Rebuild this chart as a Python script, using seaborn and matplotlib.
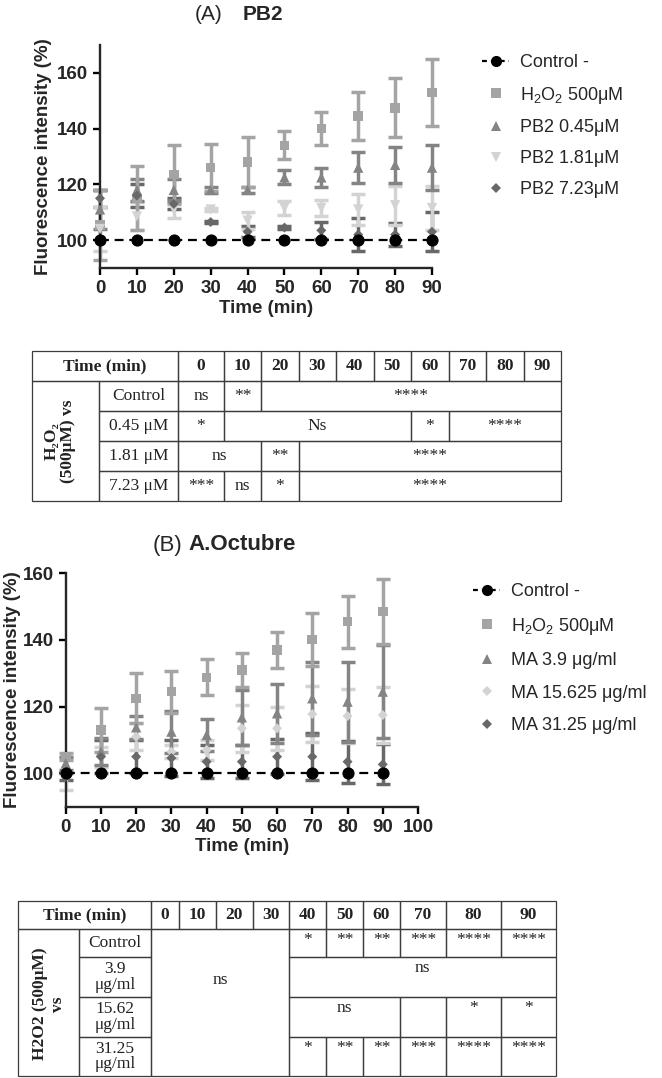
#!/usr/bin/env python3
import matplotlib
matplotlib.use("Agg")
import matplotlib.pyplot as plt
from matplotlib.lines import Line2D
from matplotlib.patches import Rectangle
import pandas as pd
import seaborn as sns

W, H = 662, 1078
SANS = ["Liberation Sans", "DejaVu Sans"]
SERIF = ["Liberation Serif", "DejaVu Serif"]

# ---- values (mean and SD, % fluorescence) ----
time_min = [0, 10, 20, 30, 40, 50, 60, 70, 80, 90]

# panel A: PB2
a_names = ["Control -", "H$_2$O$_2$ 500μM", "PB2 0.45μM", "PB2 1.81μM", "PB2 7.23μM"]
a_control = [100, 100, 100, 100, 100, 100, 100, 100, 100, 100]
a_control_sd = [0, 0, 0, 0, 0, 0, 0, 0, 0, 0]
a_h2o2 = [105.5, 115, 123.5, 126, 128, 134, 140, 144.5, 147.5, 153]
a_h2o2_sd = [12.5, 11.5, 10.5, 8.5, 9, 5, 6, 8.5, 10.5, 12]
a_pb2_045 = [111, 118, 118, 118, 118, 122.5, 122.5, 126, 127, 126]
a_pb2_045_sd = [7, 4, 4, 1, 1, 2.5, 3.5, 5.5, 6.5, 8]
a_pb2_181 = [104, 108.5, 111, 111, 107, 111.5, 111.5, 111, 112.5, 111.5]
a_pb2_181_sd = [8, 5, 3, 0.5, 3, 2.5, 3, 5.5, 7, 8]
a_pb2_723 = [115, 116, 113, 106.5, 103, 104.5, 103.5, 102, 102, 103]
a_pb2_723_sd = [3, 4, 2, 0.5, 2, 0.5, 3, 6, 4, 7]

# panel B: A.Octubre
b_names = ["Control -", "H$_2$O$_2$ 500μM", "MA 3.9 μg/ml", "MA 15.625 μg/ml", "MA 31.25 μg/ml"]
b_control = [100, 100, 100, 100, 100, 100, 100, 100, 100, 100]
b_control_sd = [0, 0, 0, 0, 0, 0, 0, 0, 0, 0]
b_h2o2 = [105, 113, 122.5, 124.5, 128.8, 131, 137, 140.2, 145.5, 148.5]
b_h2o2_sd = [1, 6.5, 7.5, 6.3, 5.4, 5, 5.3, 8, 7.8, 9.8]
b_ma39 = [103, 106.5, 113.8, 112.5, 111.5, 116.8, 118, 122.5, 121.5, 124.5]
b_ma39_sd = [2, 4, 3.5, 6.3, 4.7, 8.3, 8.8, 11, 12, 14]
b_ma15 = [100, 105, 111, 106.5, 107, 113.5, 113.5, 117.8, 117.2, 117.5]
b_ma15_sd = [5, 3, 4, 2, 3, 7, 6.5, 8.5, 8, 8.5]
b_ma31 = [99, 105, 105, 104.6, 103.5, 103.5, 105, 105, 103.5, 102.7]
b_ma31_sd = [1, 5, 5, 5.5, 5, 5, 5.3, 7, 6.3, 6]

# significance tables
a_row_labels = ["Control", "0.45 μM", "1.81 μM", "7.23 μM"]
a_cells = [
    [(1, "ns"), (1, "**"), (8, "****")],
    [(1, "*"), (5, "Ns"), (1, "*"), (3, "****")],
    [(2, "ns"), (1, "**"), (7, "****")],
    [(1, "***"), (1, "ns"), (1, "*"), (7, "****")],
]
b_row_labels = ["Control", "3.9\nμg/ml", "15.62\nμg/ml", "31.25\nμg/ml"]
b_block_text = "ns"  # merged 0-30 min over all rows
b_cells = [
    [(1, "*"), (1, "**"), (1, "**"), (1, "***"), (1, "****"), (1, "****")],
    [(6, "ns")],
    [(3, "ns"), (1, ""), (1, "*"), (1, "*")],
    [(1, "*"), (1, "**"), (1, "**"), (1, "***"), (1, "****"), (1, "****")],
]

# ---- styles ----
colors = ["black", "#a4a4a4", "#848484", "#d3d3d3", "#686868"]
a_markers = ["o", "s", "^", "v", "D"]
b_markers = ["o", "s", "^", "D", "D"]
a_sizes = [0, 48, 55, 55, 26]
b_sizes = [0, 48, 55, 26, 26]

sns.set_style("ticks")
plt.rcParams["font.family"] = SANS
plt.rcParams["mathtext.fontset"] = "custom"
plt.rcParams["mathtext.rm"] = "Liberation Sans"
plt.rcParams["mathtext.it"] = "Liberation Sans:italic"
plt.rcParams["mathtext.bf"] = "Liberation Sans:bold"

fig = plt.figure(figsize=(W / 100, H / 100), dpi=100)


def draw_panel(ax, names, means, sds, markers, sizes, ylabelpad=4):
    # error bars, last series first so the early ones sit on top
    for i in range(len(names) - 1, 0, -1):
        eb = ax.errorbar(time_min, means[i], yerr=sds[i], fmt="none",
                         ecolor=colors[i], elinewidth=2.5, capsize=4.8,
                         capthick=2.5, zorder=2)
        for art in eb.get_children():
            art.set_clip_on(False)
    rows = []
    for i in range(1, len(names)):
        for t, v in zip(time_min, means[i]):
            rows.append({"time": t, "value": v, "group": names[i]})
    df = pd.DataFrame(rows)
    sns.scatterplot(data=df, x="time", y="value", hue="group", style="group",
                    size="group",
                    palette=dict(zip(names[1:], colors[1:])),
                    markers=dict(zip(names[1:], markers[1:])),
                    sizes=dict(zip(names[1:], sizes[1:])),
                    linewidth=0, legend=False, ax=ax, clip_on=False, zorder=3)
    sns.lineplot(x=time_min, y=means[0], color="black", linestyle=(0, (4, 2.6)),
                 lw=1.6, marker="o", markersize=8, markeredgecolor="black",
                 ax=ax, clip_on=False, zorder=4)

    sns.despine(ax=ax)
    for s in ["left", "bottom"]:
        ax.spines[s].set_linewidth(1.7)
    ax.tick_params(width=1.7, length=5, labelsize=13.5, color="black")
    ax.set_xlabel("Time (min)", fontsize=13.5, fontweight="bold", labelpad=2)
    ax.set_ylabel("Fluorescence intensity (%)", fontsize=13.5, fontweight="bold",
                  labelpad=ylabelpad)


def add_legend(names, markers, msizes, x, y, spacing):
    handles = [Line2D([], [], color="black", linestyle=(0, (2.2, 1.8)), lw=1.6,
                      marker="o", markersize=7, markeredgecolor="black")]
    for c, m, s in zip(colors[1:], markers[1:], msizes):
        handles.append(Line2D([], [], ls="none", marker=m, color=c,
                              markersize=s, markeredgewidth=0))
    fig.legend(handles, names, loc="upper left", bbox_to_anchor=(x / W, 1 - y / H),
               frameon=False, fontsize=13, handlelength=1.5, handletextpad=0.6,
               labelspacing=spacing, borderpad=0, borderaxespad=0)


# panel A
ax_a = fig.add_axes([100 / W, 1 - 268 / H, 332 / W, 223 / H])
draw_panel(ax_a, a_names, [a_control, a_h2o2, a_pb2_045, a_pb2_181, a_pb2_723],
           [a_control_sd, a_h2o2_sd, a_pb2_045_sd, a_pb2_181_sd, a_pb2_723_sd],
           a_markers, a_sizes)
ax_a.set_xlim(0, 90)
ax_a.set_ylim(90, 170)
ax_a.set_xticks(time_min)
ax_a.set_xticklabels([str(t) for t in time_min], fontweight="bold")
ax_a.set_yticks([100, 120, 140, 160])
ax_a.set_yticklabels(["100", "120", "140", "160"], fontweight="bold")
add_legend(a_names, a_markers, [6.5, 7, 7, 5], 482, 54, 0.76)
fig.text(222 / W, 1 - 14 / H, "(A)", ha="right", va="center", fontsize=15)
fig.text(243 / W, 1 - 14 / H, "PB2", ha="left", va="center", fontsize=15,
         fontweight="bold")

# panel B
ax_b = fig.add_axes([65.7 / W, 1 - 806.7 / H, 352.3 / W, 233.4 / H])
draw_panel(ax_b, b_names, [b_control, b_h2o2, b_ma39, b_ma15, b_ma31],
           [b_control_sd, b_h2o2_sd, b_ma39_sd, b_ma15_sd, b_ma31_sd],
           b_markers, b_sizes, ylabelpad=1)
ax_b.set_xlim(0, 100)
ax_b.set_ylim(90, 160)
ax_b.set_xticks(time_min + [100])
ax_b.set_xticklabels([str(t) for t in time_min + [100]], fontweight="bold")
ax_b.set_yticks([100, 120, 140, 160])
ax_b.set_yticklabels(["100", "120", "140", "160"], fontweight="bold")
add_legend(b_names, b_markers, [6.5, 7, 5, 5], 473, 583, 0.86)
fig.text(182 / W, 1 - 545 / H, "(B)", ha="right", va="center", fontsize=16)
fig.text(188 / W, 1 - 545 / H, "A.Octubre", ha="left", va="center", fontsize=16,
         fontweight="bold")

# ---- tables, drawn in pixel coordinates ----
tab = fig.add_axes([0, 0, 1, 1])
tab.set_xlim(0, W)
tab.set_ylim(H, 0)
tab.axis("off")
EDGE = "#3c3c3c"


def cell(x0, x1, y0, y1, text="", va="center", pad=3, **kw):
    tab.add_patch(Rectangle((x0, y0), x1 - x0, y1 - y0, fill=False, ec=EDGE, lw=0.9))
    if text:
        ty = (y0 + y1) / 2 if va == "center" else y0 + pad
        tab.text((x0 + x1) / 2, ty, text, ha="center", va=va, family=SERIF,
                 fontsize=12.5, color="#222222", linespacing=0.95, **kw)


def draw_header(xe, ye):
    cell(xe[0], xe[2], ye[0], ye[1], "Time (min)", fontweight="bold")
    for j, t in enumerate(time_min):
        cell(xe[2 + j], xe[3 + j], ye[0], ye[1], str(t), fontweight="bold")


# table A
ax_e = [32, 99, 178, 224, 261, 298.5, 336, 373.5, 411, 448.5, 486, 523.5, 561]
ay_e = [351, 381, 411, 441, 471, 501]
draw_header(ax_e, ay_e)
cell(ax_e[0], ax_e[1], ay_e[1], ay_e[5])
tab.text(60, 441, "H₂O₂\n(500μM) vs", rotation=90, ha="center", va="center",
         family=SERIF, fontsize=12.5, fontweight="bold", multialignment="center",
         linespacing=1.05, color="#222222")
for r, lab in enumerate(a_row_labels):
    cell(ax_e[1], ax_e[2], ay_e[1 + r], ay_e[2 + r], lab)
    c = 0
    for span, txt in a_cells[r]:
        cell(ax_e[2 + c], ax_e[2 + c + span], ay_e[1 + r], ay_e[2 + r], txt)
        c += span

# table B
bx_e = [18, 79, 150.7, 179, 216, 252.7, 289.3, 326, 363, 400, 446, 501, 556]
by_e = [901, 929, 957, 997, 1037, 1076]
draw_header(bx_e, by_e)
cell(bx_e[0], bx_e[1], by_e[1], by_e[5])
tab.text(49, 1004, "H2O2 (500μM)\nvs", rotation=90, ha="center", va="center",
         family=SERIF, fontsize=12.5, fontweight="bold", multialignment="center",
         linespacing=1.15, color="#222222")
cell(bx_e[2], bx_e[6], by_e[1], by_e[5])
tab.text(220, 980, b_block_text, ha="center", va="center", family=SERIF,
         fontsize=12.5, color="#222222")
for r, lab in enumerate(b_row_labels):
    cell(bx_e[1], bx_e[2], by_e[1 + r], by_e[2 + r], lab)
    c = 4
    for span, txt in b_cells[r]:
        cell(bx_e[2 + c], bx_e[2 + c + span], by_e[1 + r], by_e[2 + r], txt, va="top")
        c += span

fig.savefig("out.png", dpi=100)
